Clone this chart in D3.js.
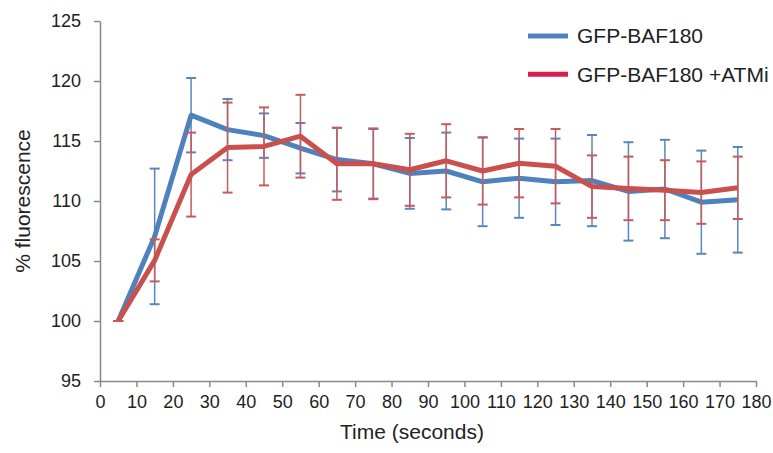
<!DOCTYPE html>
<html>
<head>
<meta charset="utf-8">
<script src="https://cdn.jsdelivr.net/npm/d3@7"></script>
<style>
  body { margin: 0; background: #fff; }
  text { font-family: "Liberation Sans", Arial, sans-serif; fill: #222; }
  .axis path, .axis line { stroke: #888; stroke-width: 1.5; }
  .axis text { font-size: 18px; fill: #222; }
</style>
</head>
<body>
<div id="chart"></div>
<script>
// time points (seconds)
var times = [5, 15, 25, 35, 45, 55, 65, 75, 85, 95, 105, 115, 125, 135, 145, 155, 165, 175];

// GFP-BAF180
var baf = [100, 107.05, 117.15, 115.95, 115.45, 114.4, 113.45, 113.1, 112.3, 112.5,
           111.6, 111.9, 111.6, 111.7, 110.8, 111.0, 109.9, 110.1];
var bafErr = [0, 5.65, 3.1, 2.55, 1.85, 2.1, 2.65, 2.9, 2.95, 3.2,
              3.7, 3.3, 3.6, 3.8, 4.1, 4.1, 4.3, 4.4];

// GFP-BAF180 +ATMi
var atmi = [100, 105.05, 112.2, 114.45, 114.55, 115.4, 113.1, 113.1, 112.6, 113.35,
            112.5, 113.15, 112.9, 111.2, 111.05, 110.9, 110.7, 111.1];
var atmiErr = [0, 1.75, 3.5, 3.75, 3.25, 3.45, 3.0, 2.95, 3.0, 3.05,
               2.8, 2.85, 3.1, 2.6, 2.65, 2.5, 2.6, 2.6];

var xTicks = d3.range(0, 181, 10);
var yTicks = [95, 100, 105, 110, 115, 120, 125];

var series = [
  {name: "GFP-BAF180", values: baf, err: bafErr, color: "#4f81bd", errColor: "#5a86bd", legendColor: "#4f81bd"},
  {name: "GFP-BAF180 +ATMi", values: atmi, err: atmiErr, color: "#c9504d", errColor: "#c95a5a", legendColor: "#d6204a"}
];

var W = 773, H = 453;
var margin = {top: 21, right: 17, bottom: 72, left: 100},
    width = W - margin.left - margin.right,
    height = H - margin.top - margin.bottom;

var x = d3.scaleLinear().domain([0, 180]).range([0, width]);
var y = d3.scaleLinear().domain([95, 125]).range([height, 0]);

var svg = d3.select("#chart").append("svg")
    .attr("width", W)
    .attr("height", H)
  .append("g")
    .attr("transform", "translate(" + margin.left + "," + margin.top + ")");

// axes
svg.append("g")
    .attr("class", "axis")
    .attr("transform", "translate(0," + height + ")")
    .call(d3.axisBottom(x).tickValues(xTicks).tickSize(6).tickSizeOuter(0).tickPadding(8))
    .selectAll("text").attr("dy", "0.71em");

svg.append("g")
    .attr("class", "axis")
    .call(d3.axisLeft(y).tickValues(yTicks).tickSize(6).tickSizeOuter(0).tickPadding(13));

// axis titles
svg.append("text")
    .attr("x", 312)
    .attr("y", height + 58)
    .attr("text-anchor", "middle")
    .style("font-size", "21px")
    .text("Time (seconds)");

svg.append("text")
    .attr("transform", "translate(-70," + (height / 2) + ") rotate(-90)")
    .attr("text-anchor", "middle")
    .style("font-size", "21px")
    .text("% fluorescence");

var line = d3.line()
    .x(function(d, i) { return x(times[i]); })
    .y(function(d) { return y(d); });

series.forEach(function(s) {
  var g = svg.append("g");
  var pts = s.values.map(function(v, i) { return {t: times[i], v: v, e: s.err[i]}; });

  // error bars
  g.selectAll(".eb")
      .data(pts)
    .enter().append("line")
      .attr("x1", function(d) { return x(d.t); })
      .attr("x2", function(d) { return x(d.t); })
      .attr("y1", function(d) { return y(d.v - d.e); })
      .attr("y2", function(d) { return y(d.v + d.e); })
      .attr("stroke", s.errColor)
      .attr("stroke-width", 1.5);

  [-1, 1].forEach(function(sign) {
    g.selectAll(".cap" + sign)
        .data(pts)
      .enter().append("line")
        .attr("x1", function(d) { return x(d.t) - 5; })
        .attr("x2", function(d) { return x(d.t) + 5; })
        .attr("y1", function(d) { return y(d.v + sign * d.e); })
        .attr("y2", function(d) { return y(d.v + sign * d.e); })
        .attr("stroke", s.errColor)
        .attr("stroke-width", 2);
  });

  g.append("path")
      .datum(s.values)
      .attr("fill", "none")
      .attr("stroke", s.color)
      .attr("stroke-width", 5)
      .attr("stroke-linejoin", "round")
      .attr("d", line);
});

// legend
var legend = svg.append("g")
    .attr("transform", "translate(428,15)");

series.forEach(function(s, i) {
  var row = legend.append("g").attr("transform", "translate(0," + (i * 38.3) + ")");
  row.append("line")
      .attr("x1", 0).attr("x2", 40)
      .attr("stroke", s.legendColor)
      .attr("stroke-width", 5);
  row.append("text")
      .attr("x", 49)
      .attr("dy", "0.35em")
      .style("font-size", "21px")
      .text(s.name);
});
</script>
</body>
</html>
